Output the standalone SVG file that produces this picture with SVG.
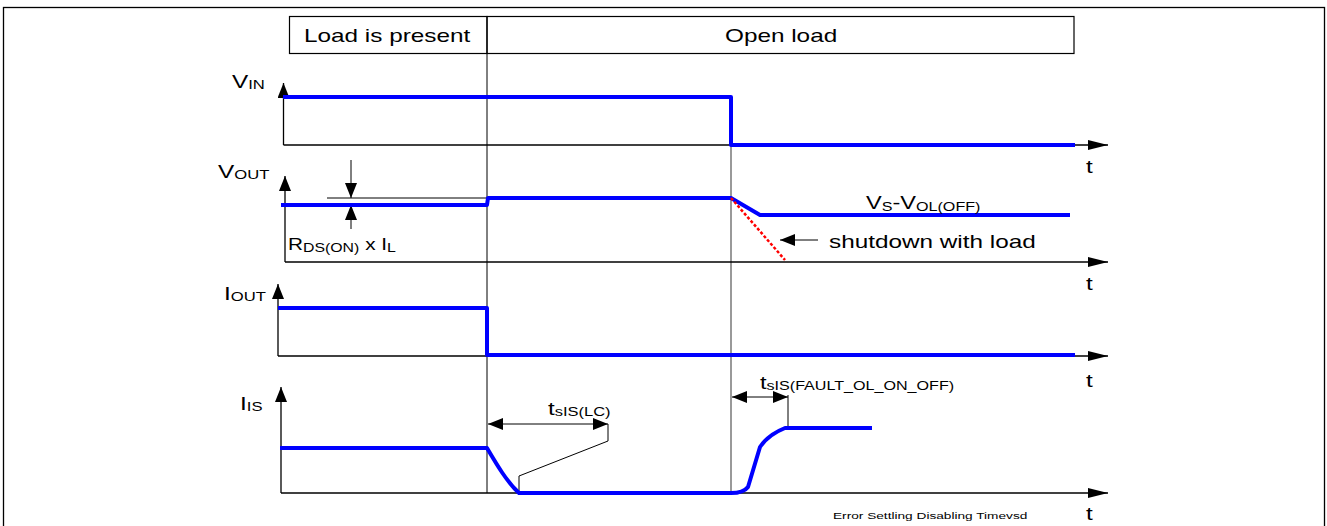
<svg xmlns="http://www.w3.org/2000/svg" width="1327" height="526" viewBox="0 0 1327 526">
<defs>
<style>
text{font-family:"Liberation Sans",Arial,sans-serif;fill:#000}
.lbl{font-size:19px}
.sub{font-size:13px}
.ax{stroke:#000;stroke-width:1.3;fill:none}
.thin{stroke:#000;stroke-width:1;fill:none}
.sig{stroke:#0000ff;stroke-width:4;fill:none;stroke-linejoin:round}
</style>
<marker id="ah" viewBox="0 0 20 10" refX="20" refY="5" markerWidth="20" markerHeight="10" markerUnits="userSpaceOnUse" orient="auto-start-reverse"><path d="M0,0 L20,5 L0,10 Z" fill="#000"/></marker>
<marker id="sh" viewBox="0 0 15 12" refX="15" refY="6" markerWidth="15" markerHeight="12" markerUnits="userSpaceOnUse" orient="auto-start-reverse"><path d="M0,0 L15,6 L0,12 Z" fill="#000"/></marker>
</defs>
<rect width="1327" height="526" fill="#fff"/>
<rect x="3.5" y="7.5" width="1321" height="530" fill="none" stroke="#000" stroke-width="1.3"/>
<g id="header">
<rect x="289.5" y="16.5" width="197.5" height="37" fill="none" stroke="#000" stroke-width="1.2"/>
<rect x="487" y="16.5" width="587" height="37" fill="none" stroke="#000" stroke-width="1.2"/>
<text transform="translate(304,41.5) scale(1.28,1)" class="lbl">Load is present</text>
<text transform="translate(725,41.5) scale(1.28,1)" class="lbl">Open load</text>
</g>
<g id="connectors">
<line x1="487" y1="53" x2="487" y2="493" class="thin"/>
<line x1="731" y1="97" x2="731" y2="493" stroke="#555" stroke-width="1.2"/>
<line x1="283.5" y1="145" x2="283.5" y2="83" class="ax" marker-end="url(#sh)"/>
<line x1="283.5" y1="145" x2="1108" y2="145" class="ax" marker-end="url(#ah)"/>
<line x1="285" y1="262" x2="285" y2="176" class="ax" marker-end="url(#sh)"/>
<line x1="285" y1="262" x2="1108" y2="262" class="ax" marker-end="url(#ah)"/>
<line x1="278" y1="356" x2="278" y2="284" class="ax" marker-end="url(#sh)"/>
<line x1="278" y1="356" x2="1108" y2="356" class="ax" marker-end="url(#ah)"/>
<line x1="281" y1="493" x2="281" y2="387" class="ax" marker-end="url(#sh)"/>
<line x1="281" y1="493" x2="1108" y2="493" class="ax" marker-end="url(#ah)"/>
<line x1="327" y1="198" x2="487" y2="198" class="thin"/>
<line x1="351" y1="160" x2="351" y2="198" class="thin" marker-end="url(#sh)"/>
<line x1="351" y1="229" x2="351" y2="205" class="thin" marker-end="url(#sh)"/>
<line x1="818" y1="240" x2="780" y2="240" class="thin" marker-end="url(#sh)"/>
<line x1="488" y1="424" x2="608" y2="424" class="thin" marker-start="url(#sh)" marker-end="url(#sh)"/>
<polyline points="608,424 608,441 519,476 519,493" class="thin"/>
<line x1="732" y1="397" x2="788" y2="397" class="thin" marker-start="url(#sh)" marker-end="url(#sh)"/>
<line x1="788" y1="395" x2="788" y2="428" class="thin"/>
</g>
<g id="vin">
<text transform="translate(232,88) scale(1.28,1)" class="lbl">V<tspan class="sub" dy="1">IN</tspan></text>
<polyline points="283,97 731,97 731,145 1075,145" class="sig"/>
<text transform="translate(1086,173) scale(1.28,1)" class="lbl">t</text>
</g>
<g id="vout">
<text transform="translate(218,178) scale(1.28,1)" class="lbl">V<tspan class="sub" dy="1">OUT</tspan></text>
<polyline points="281,205 487,205 488,198 731,198 760,215 1070,215" class="sig"/>
<line x1="731" y1="198" x2="785" y2="260" stroke="#ff0000" stroke-width="2.5" stroke-dasharray="3,2"/>
<text transform="translate(288,250) scale(1.22,1)" class="lbl" style="font-size:17px">R<tspan class="sub" dy="2">DS(ON)</tspan><tspan dy="-2"> x I</tspan><tspan class="sub" dy="2">L</tspan></text>
<text transform="translate(866,209) scale(1.24,1)" class="lbl">V<tspan class="sub" dy="2">S</tspan><tspan dy="-2">-V</tspan><tspan class="sub" dy="2">OL(OFF)</tspan></text>
<text transform="translate(829,248) scale(1.28,1)" class="lbl">shutdown with load</text>
<text transform="translate(1086,290) scale(1.28,1)" class="lbl">t</text>
</g>
<g id="iout">
<text transform="translate(224,300) scale(1.28,1)" class="lbl">I<tspan class="sub" dy="1">OUT</tspan></text>
<polyline points="278,308 487,308 487,355 1075,355" class="sig"/>
<text transform="translate(1086,387) scale(1.28,1)" class="lbl">t</text>
</g>
<g id="iis">
<text transform="translate(240,410) scale(1.28,1)" class="lbl">I<tspan class="sub" dy="1">IS</tspan></text>
<path d="M280,448 L487,448 C497,465 507,482 519,493 L731,493 C740,493 745,491 748,487 L760,447 C766,438 775,432 785,428 L872,428" class="sig"/>
<text transform="translate(548,415) scale(1.27,1)" class="lbl">t<tspan class="sub" dy="1">sIS(LC)</tspan></text>
<text transform="translate(760,389) scale(1.24,1)" class="lbl">t<tspan class="sub" dy="1">sIS(FAULT_OL_ON_OFF)</tspan></text>
<text transform="translate(1086,520) scale(1.28,1)" class="lbl">t</text>
<text transform="translate(833,519) scale(1.52,1)" style="font-size:9px">Error Settling Disabling Timevsd</text>
</g>
</svg>
